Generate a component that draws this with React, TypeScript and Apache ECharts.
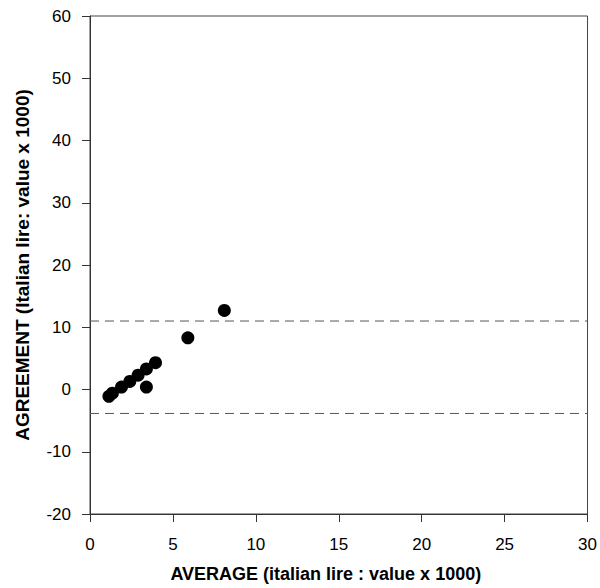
import React, { useEffect, useRef } from "react";
import * as echarts from "echarts";

const averages = [1.14, 1.35, 1.9, 2.4, 2.9, 3.4, 3.95, 3.4, 5.9, 8.1];
const agreements = [-1.1, -0.6, 0.4, 1.3, 2.3, 3.3, 4.3, 0.4, 8.3, 12.7];
const upperLimit = 11;
const lowerLimit = -3.85;
const xRange = [0, 30];
const yRange = [-20, 60];

export default function App() {
  const ref = useRef<HTMLDivElement>(null);
  useEffect(() => {
    if (!ref.current) return;
    const chart = echarts.init(ref.current, undefined, { renderer: "svg" });
    const font = "'Liberation Sans', Arial, sans-serif";
    const dashStyle = { color: "#555", width: 1, type: [9, 6] as number[] };
    chart.setOption({
      animation: false,
      grid: {
        left: 90,
        right: 8,
        top: 16,
        bottom: 73,
        show: true,
        borderColor: "#444",
        borderWidth: 1,
        backgroundColor: "transparent",
      },
      xAxis: {
        type: "value",
        min: xRange[0],
        max: xRange[1],
        interval: 5,
        name: "AVERAGE (italian lire : value x 1000)",
        nameLocation: "middle",
        nameGap: 51,
        nameTextStyle: {
          fontFamily: font,
          fontSize: 18,
          fontWeight: "bold",
          color: "#000",
          padding: [0, 26, 0, 0],
        },
        axisLine: { show: true, onZero: false, lineStyle: { color: "#333" } },
        axisTick: { show: true, inside: false, length: 8, lineStyle: { color: "#333" } },
        axisLabel: { fontFamily: font, fontSize: 17, color: "#000", margin: 22 },
        splitLine: { show: false },
      },
      yAxis: {
        type: "value",
        min: yRange[0],
        max: yRange[1],
        interval: 10,
        name: "AGREEMENT (Italian lire: value x 1000)",
        nameLocation: "middle",
        nameGap: 58,
        nameTextStyle: { fontFamily: font, fontSize: 19, fontWeight: "bold", color: "#000" },
        axisLine: { show: true, onZero: false, lineStyle: { color: "#333" } },
        axisTick: { show: true, inside: false, length: 8, lineStyle: { color: "#333" } },
        axisLabel: { fontFamily: font, fontSize: 17, color: "#000", margin: 19 },
        splitLine: { show: false },
      },
      series: [
        {
          type: "line",
          data: [
            [xRange[0], upperLimit],
            [xRange[1], upperLimit],
          ],
          symbol: "none",
          lineStyle: dashStyle,
          silent: true,
        },
        {
          type: "line",
          data: [
            [xRange[0], lowerLimit],
            [xRange[1], lowerLimit],
          ],
          symbol: "none",
          lineStyle: dashStyle,
          silent: true,
        },
        {
          type: "scatter",
          data: averages.map((a, i) => [a, agreements[i]]),
          symbol: "circle",
          symbolSize: 13,
          itemStyle: { color: "#000", opacity: 1 },
        },
      ],
    });
    return () => chart.dispose();
  }, []);
  return <div ref={ref} style={{ width: 600, height: 588, position: "absolute", left: 0, top: 0 }} />;
}
